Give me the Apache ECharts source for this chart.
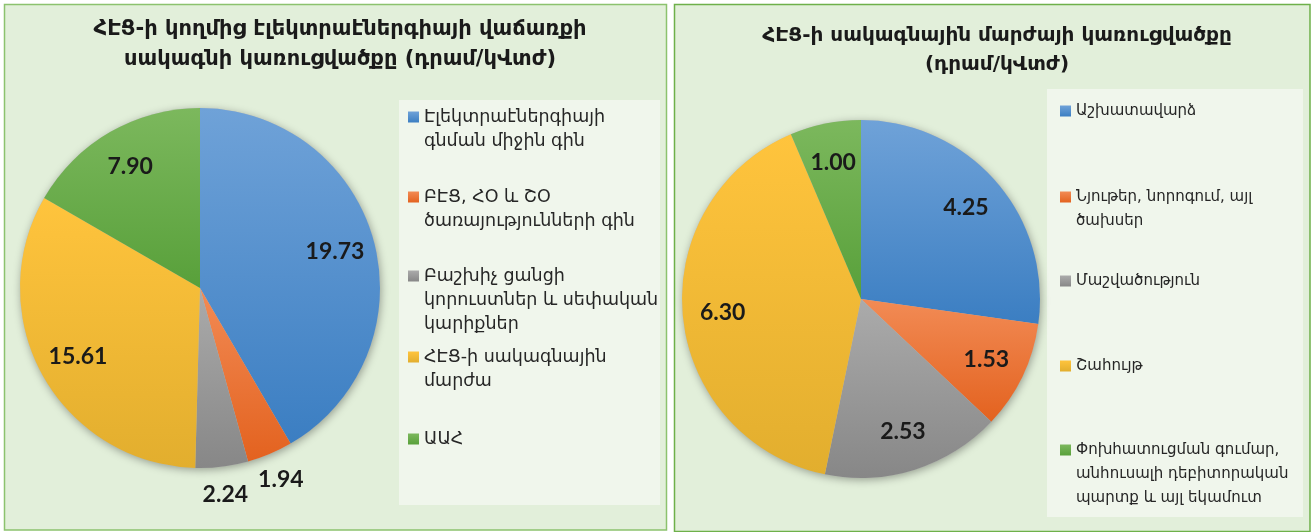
<!DOCTYPE html>
<html><head><meta charset="utf-8">
<script src="https://cdn.jsdelivr.net/npm/echarts@6/dist/echarts.min.js"></script>
<style>html,body{margin:0;padding:0;background:#fff}#c{width:1312px;height:532px}</style>
</head><body><div id="c"></div>
<script>
const leftTitle = 'ՀԷՑ-ի կողմից էլեկտրաէներգիայի վաճառքի\nսակագնի կառուցվածքը (դրամ/կՎտժ)';
const rightTitle = 'ՀԷՑ-ի սակագնային մարժայի կառուցվածքը\n(դրամ/կՎտժ)';
const leftCategories = ['Էլեկտրաէներգիայի\nգնման միջին գին', 'ԲԷՑ, ՀՕ և ՇՕ\nծառայությունների գին', 'Բաշխիչ ցանցի\nկորուստներ և սեփական\nկարիքներ', 'ՀԷՑ-ի սակագնային\nմարժա', 'ԱԱՀ'];
const leftValues = [19.73, 1.94, 2.24, 15.61, 7.90];
const rightCategories = ['Աշխատավարձ', 'Նյութեր, նորոգում, այլ\nծախսեր', 'Մաշվածություն', 'Շահույթ', 'Փոխհատուցման գումար,\nանհուսալի դեբիտորական\nպարտք և այլ եկամուտ'];
const rightValues = [4.25, 1.53, 2.53, 6.30, 1.00];

const palette = [['#6fa2d8', '#3b7ec2'], ['#f28b55', '#e3621f'], ['#ababab', '#878787'], ['#ffc43d', '#e2ae2e'], ['#7cb85d', '#58a03a']];
const grad = (i) => new echarts.graphic.LinearGradient(0, 0, 0, 1, [{offset: 0, color: palette[i][0]}, {offset: 1, color: palette[i][1]}]);

const labelStyle = {fontFamily: 'Lato', fontWeight: 'bold', fontSize: 23, color: '#1a1a1a'};

function pieSeries(cats, vals, center, R) {
  const total = vals.reduce((a, b) => a + b, 0);
  const main = {
    type: 'pie', center: center, radius: [0, R], startAngle: 90, clockwise: true, silent: true,
    label: {show: false}, labelLine: {show: false},
    data: cats.map((c, i) => ({name: c, value: vals[i], itemStyle: {color: grad(i)}}))
  };
  const shadow = {
    type: 'pie', center: center, radius: [0, R], silent: true, z: 1,
    label: {show: false}, labelLine: {show: false},
    itemStyle: {color: '#bbb', shadowBlur: 8, shadowColor: 'rgba(0,0,0,0.35)', shadowOffsetX: 1, shadowOffsetY: 2},
    data: [{name: '_bg', value: total}]
  };
  const mk = (r0, r1, showFn) => ({
    type: 'pie', center: center, radius: [r0, r1], startAngle: 90, clockwise: true, silent: true, z: 3,
    itemStyle: {color: 'rgba(0,0,0,0)'}, labelLine: {show: false},
    data: cats.map((c, i) => ({name: c, value: vals[i], label: {show: showFn(vals[i] / total)}})),
    label: Object.assign({position: 'inside', formatter: (p) => p.value.toFixed(2)}, labelStyle)
  });
  return [shadow, main, mk(R * 0.52, R, s => s >= 0.05), mk(R, R * 1.28, s => s < 0.05)];
}

function legends(cats, left, iconYs, fontSize) {
  return cats.map((c, i) => {
    const n = c.split('\n').length;
    return {
      data: [c], orient: 'vertical', left: left, top: iconYs[i] - (2 * n - 1) * 12, padding: 0,
      itemWidth: 11, itemHeight: 11, icon: 'rect', itemGap: 0, itemGap: 0, selectedMode: false,
      formatter: (name) => '\n'.repeat(name.split('\n').length - 1) + name,
      textStyle: {fontFamily: 'DejaVu Sans', fontSize: fontSize, lineHeight: 24, color: '#262626'}
    };
  });
}

const chart = echarts.init(document.getElementById('c'));
chart.setOption({
  animation: false,
  graphic: [
    {type: 'rect', shape: {x: 4.5, y: 4.5, width: 662, height: 525.5}, style: {fill: '#e2efda', stroke: '#8cc26e', lineWidth: 1.5}},
    {type: 'rect', shape: {x: 674.5, y: 4.5, width: 635.5, height: 527}, style: {fill: '#e2efda', stroke: '#6eb04a', lineWidth: 1.5}},
    {type: 'rect', shape: {x: 399, y: 100, width: 261, height: 405}, style: {fill: '#f0f6ec'}},
    {type: 'rect', shape: {x: 1047, y: 89, width: 256, height: 428}, style: {fill: '#f0f6ec'}}
  ],
  title: [
    {text: leftTitle, left: 335, top: 10, textAlign: 'center', textStyle: {fontFamily: 'DejaVu Sans', fontWeight: 'bold', fontSize: 21, lineHeight: 30, color: '#1a1a1a'}},
    {text: rightTitle, left: 992, top: 16, textAlign: 'center', textStyle: {fontFamily: 'DejaVu Sans', fontWeight: 'bold', fontSize: 20, lineHeight: 29, color: '#1a1a1a'}}
  ],
  legend: legends(leftCategories, 408, [117, 197, 276, 357, 439], 17.5).concat(legends(rightCategories, 1060, [111, 197, 281, 366, 450], 15)),
  series: pieSeries(leftCategories, leftValues, [200, 288], 180).concat(pieSeries(rightCategories, rightValues, [861, 299], 179))
});
</script></body></html>
